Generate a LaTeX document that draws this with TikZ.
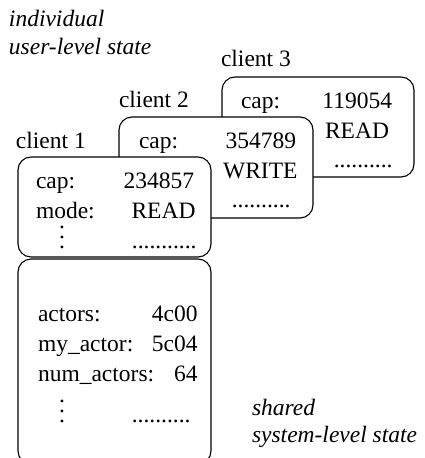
\documentclass[tikz,border=0pt]{standalone}
\usepackage{fontspec}
\setmainfont{Liberation Serif}
\newcommand{\labelfont}{\fontsize{23.5}{27}\selectfont}
% three stacked periods, spaced 10pt apart
\newcommand{\colondots}{\vbox{\baselineskip=10pt\lineskiplimit=-20pt\hbox{.}\hbox{.}\hbox{.}}}
\begin{document}
\begin{tikzpicture}[x=1pt,y=-1pt,
  statebox/.style={draw, line width=1.1pt, rounded corners=13pt, fill=white},
  txt/.style={inner sep=0pt, outer sep=0pt, anchor=base west, font=\labelfont},
  val/.style={txt, anchor=base east},
  note/.style={txt, font=\labelfont\itshape},
  vd/.style={inner sep=0pt, outer sep=0pt, anchor=base, font=\labelfont}]
\useasboundingbox (0,0) rectangle (424,458);

% per-client state, back to front
\draw[statebox] (222,77) rectangle (414,177);
\draw[statebox] (119,117) rectangle (313,218);
\draw[statebox] (18,157) rectangle (211,257);
% shared state
\draw[statebox] (18,259) rectangle (211,464);

% captions
\node[note] (ind1) at (9,26) {individual};
\node[note] (ind2) at (9,54) {user-level state};
\node[note] (sh1) at (252,415) {shared};
\node[note] (sh2) at (252,442) {system-level state};

\node[txt] (c3) at (221,66) {client 3};
\node[txt] (c2) at (119,107) {client 2};
\node[txt] (c1) at (16,148) {client 1};

% client 3
\node[txt] (c3cap) at (241,108) {cap:};
\node[val] (c3capv) at (392,108) {119054};
\node[val] (c3mode) at (389,138) {READ};
\node[val] (c3dots) at (392.5,167) {..........};

% client 2
\node[txt] (c2cap) at (139,148) {cap:};
\node[val] (c2capv) at (296,148) {354789};
\node[val] (c2mode) at (297.5,178) {WRITE};
\node[val] (c2dots) at (290.5,207) {..........};

% client 1
\node[txt] (c1cap) at (36,188) {cap:};
\node[val] (c1capv) at (194,188) {234857};
\node[txt] (c1mode) at (36,218) {mode:};
\node[val] (c1modev) at (195.5,218) {READ};
\node[vd] (c1vd) at (62,248) {\colondots};
\node[val] (c1dots) at (196.5,248) {...........};

% shared
\node[txt] (act) at (38,321) {actors:};
\node[val] (actv) at (197.5,321) {4c00};
\node[txt] (my) at (38,351) {my\_actor:};
\node[val] (myv) at (197.5,351) {5c04};
\node[txt] (num) at (38,381) {num\_actors:};
\node[val] (numv) at (197.5,381) {64};
\node[vd] (shvd) at (62,422) {\colondots};
\node[val] (shdots) at (190.5,422) {..........};
\end{tikzpicture}
\end{document}
